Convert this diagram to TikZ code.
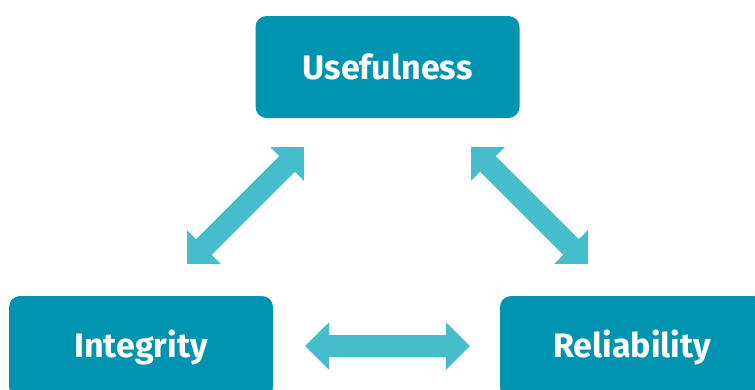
\documentclass[tikz,border=0pt]{standalone}
\usepackage{fontspec}
\setmainfont{Fira Sans}
\usetikzlibrary{arrows.meta}
\definecolor{boxteal}{RGB}{0,148,176}
\definecolor{arrowteal}{RGB}{69,189,202}
\tikzset{
  box/.style={fill=boxteal, rounded corners=11pt, minimum width=264pt, minimum height=102pt, inner sep=0pt, text=white, font=\fontsize{34}{40}\selectfont\bfseries},
  fatarrow/.style={draw=arrowteal, line width=22pt, line cap=butt, {Triangle[width=46pt,length=24pt]}-{Triangle[width=46pt,length=24pt]}}
}
\begin{document}
\begin{tikzpicture}[x=1pt,y=-1pt]
\useasboundingbox (0,0) rectangle (755,389);
\clip (0,0) rectangle (755,389);
\node[box] (use) at (387.5,67) {Usefulness};
\node[box] (int) at (141,347) {Integrity};
\node[box] (rel) at (632,347) {Reliability};
\coordinate (a1) at (187,264);
\coordinate (a2) at (304,147);
\coordinate (b1) at (471,147);
\coordinate (b2) at (588,264);
\coordinate (c1) at (305,346);
\coordinate (c2) at (470,346);
\draw[fatarrow] (a1) -- (a2);
\draw[fatarrow] (b1) -- (b2);
\draw[fatarrow] (c1) -- (c2);
\end{tikzpicture}
\end{document}
